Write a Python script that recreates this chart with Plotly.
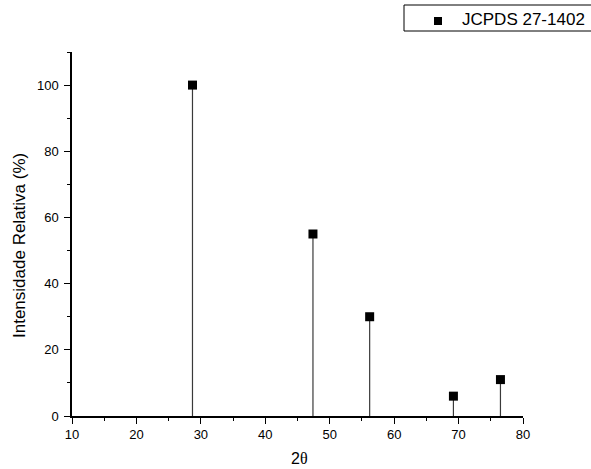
import plotly.graph_objects as go

# Reference diffraction pattern (JCPDS 27-1402)
two_theta = [28.7, 47.4, 56.2, 69.2, 76.5]
rel_intensity = [100, 55, 30, 6, 11]
series_name = "JCPDS 27-1402"

x_ticks = [10, 20, 30, 40, 50, 60, 70, 80]
y_ticks = [0, 20, 40, 60, 80, 100]

W, H = 591, 469
ML, MR, MT, MB = 72, 68, 52, 53
PW, PH = W - ML - MR, H - MT - MB


def px_to_paper(px, py):
    return (px - ML) / PW, (H - MB - py) / PH


# vertical drop lines from each reflection to the baseline
stem_x, stem_y = [], []
for xv, yv in zip(two_theta, rel_intensity):
    stem_x += [xv, xv, None]
    stem_y += [0, yv, None]

fig = go.Figure()
fig.add_trace(go.Scatter(
    x=stem_x, y=stem_y, mode="lines",
    line=dict(color="#3a3a3a", width=1.2),
    showlegend=False, hoverinfo="skip",
))
fig.add_trace(go.Scatter(
    x=two_theta, y=rel_intensity, mode="markers", name=series_name,
    marker=dict(symbol="square", size=9, color="black"),
    showlegend=False,
))

font_family = "Liberation Sans, Arial, sans-serif"

# legend box (runs off the right edge of the page)
bx0, by0 = px_to_paper(404, 5)
bx1, by1 = px_to_paper(596, 31)
mx, my = px_to_paper(438, 21)
tx, ty = px_to_paper(460, 19)
shapes = [
    dict(type="rect", xref="paper", yref="paper", x0=bx0, x1=bx1, y0=by1, y1=by0,
         line=dict(color="black", width=1), fillcolor="white", layer="above"),
    dict(type="rect", xref="paper", yref="paper",
         xsizemode="pixel", ysizemode="pixel", xanchor=mx, yanchor=my,
         x0=-4, x1=4, y0=-4, y1=4,
         line=dict(width=0), fillcolor="black", layer="above"),
]

yt_x, yt_y = px_to_paper(19, 246)
xt_x, xt_y = px_to_paper(299, 458)
annotations = [
    dict(text=series_name, xref="paper", yref="paper", x=tx, y=ty,
         xanchor="left", yanchor="middle", showarrow=False,
         font=dict(family=font_family, size=17, color="black")),
    dict(text="Intensidade Relativa (%)", xref="paper", yref="paper", x=yt_x, y=yt_y,
         xanchor="center", yanchor="middle", textangle=-90, showarrow=False,
         font=dict(family=font_family, size=17, color="black")),
    dict(text="2<span style='font-family:Liberation Serif, serif'>θ</span>",
         xref="paper", yref="paper", x=xt_x, y=xt_y,
         xanchor="center", yanchor="middle", showarrow=False,
         font=dict(family=font_family, size=16, color="black")),
]

tick_font = dict(family=font_family, size=13, color="black")

fig.update_layout(
    width=W, height=H,
    margin=dict(l=ML, r=MR, t=MT, b=MB),
    paper_bgcolor="white", plot_bgcolor="white",
    font=tick_font,
    shapes=shapes,
    annotations=annotations,
    xaxis=dict(
        range=[10, 80], tickvals=x_ticks, tickfont=tick_font,
        showline=True, linecolor="black", linewidth=1.5,
        ticks="outside", ticklen=6, tickwidth=1.3, tickcolor="black",
        minor=dict(dtick=5, ticks="outside", ticklen=3, tickwidth=1.2, tickcolor="black", showgrid=False),
        showgrid=False, zeroline=False, mirror=False,
    ),
    yaxis=dict(
        range=[0, 110], tickvals=y_ticks, tickfont=tick_font,
        showline=True, linecolor="black", linewidth=1.5,
        ticks="outside", ticklen=6, tickwidth=1.3, tickcolor="black",
        ticklabelstandoff=3,
        minor=dict(dtick=10, ticks="outside", ticklen=3, tickwidth=1.2, tickcolor="black", showgrid=False),
        showgrid=False, zeroline=False, mirror=False,
    ),
)

fig.write_html("out.html")
